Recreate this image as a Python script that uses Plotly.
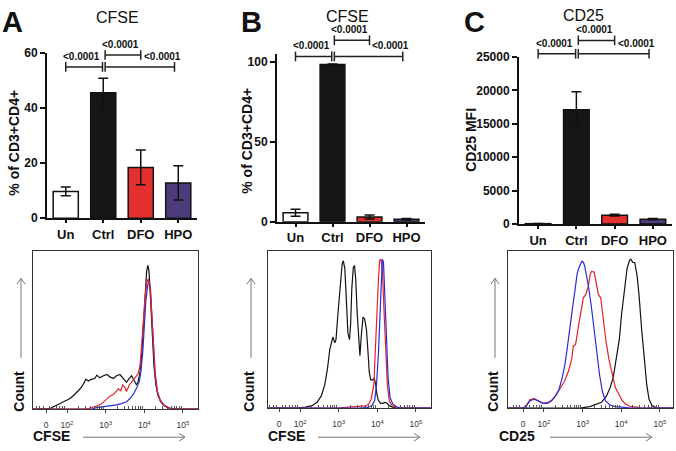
import math
import plotly.graph_objects as go

W, H = 676, 451
FONT = "Liberation Sans, Arial, sans-serif"

# ---------------- bar chart data ----------------
groups = ["Un", "Ctrl", "DFO", "HPO"]
bar_colors = ["#ffffff", "#161616", "#e4302e", "#4e3b7c"]

cfse_a_mean = [9.7, 45.4, 18.4, 12.8]
cfse_a_sem = [1.6, 5.3, 6.3, 6.2]
cfse_b_mean = [5.7, 98.4, 3.0, 1.6]
cfse_b_sem = [2.2, 0.3, 1.2, 0.5]
cd25_mfi_mean = [60, 17100, 1320, 730]
cd25_mfi_sem = [20, 2700, 130, 90]

p_label = "<0.0001"
# (from group index, to group index, bracket height in data units)
brackets_a = [(0.0, 0.98, 54.8), (1.05, 2.0, 59.1), (1.05, 2.9, 54.8)]
brackets_b = [(0.0, 0.98, 103.4), (1.05, 2.0, 113.5), (1.05, 2.9, 103.4)]
brackets_c = [(0.0, 0.98, 25500), (1.05, 2.0, 27500), (1.05, 2.9, 25500)]
bracket_label_x = [0.43, 1.47, 2.57]

# ---------------- histogram data (display units: log10 decades, % of max) ----------------
hist_tickvals = [1.46, 2, 3, 4, 5]
hist_ticktext = ["0", "10<sup>2</sup>", "10<sup>3</sup>", "10<sup>4</sup>", "10<sup>5</sup>"]
hist_minor_lin = [1.2, 1.3, 1.38, 1.55, 1.63, 1.72, 1.8, 1.88, 1.94]

# Panel A (CFSE)
a_ctrl_x = [1.05, 1.56, 1.69, 1.82, 1.95, 2.08, 2.21, 2.34, 2.42, 2.49, 2.55, 2.64, 2.72, 2.77, 2.85,
            2.94, 3.04, 3.11, 3.20, 3.28, 3.37, 3.46, 3.54, 3.61, 3.67, 3.73, 3.80, 3.84, 3.89, 3.93,
            3.97, 4.02, 4.06, 4.09, 4.12, 4.16, 4.21, 4.25, 4.30, 4.36, 4.45, 4.53, 4.66, 4.84, 5.45]
a_ctrl_y = [0, 0.4, 2.0, 3.5, 5.1, 6.7, 9.6, 12.9, 15.7, 19.0, 17.8, 19.0, 19.4, 21.5, 19.8,
            21.1, 21.9, 20.4, 19.4, 21.1, 21.9, 19.4, 17.0, 19.4, 21.1, 18.4, 15.3, 17.4, 23.5, 33.7,
            52.1, 72.6, 86.9, 91.0, 87.9, 70.6, 48.1, 27.6, 15.3, 8.2, 4.1, 2.0, 0.6, 0, 0]
a_dfo_x = [1.05, 2.51, 2.64, 2.77, 2.90, 2.98, 3.04, 3.11, 3.20, 3.27, 3.33, 3.39, 3.44, 3.50, 3.54,
           3.61, 3.67, 3.76, 3.84, 3.89, 3.93, 3.97, 4.02, 4.06, 4.10, 4.15, 4.19, 4.23, 4.28, 4.34,
           4.41, 4.49, 4.58, 4.71, 5.45]
a_dfo_y = [0, 0, 1.0, 2.0, 3.5, 5.1, 6.7, 8.2, 9.2, 11.2, 12.9, 11.7, 15.3, 13.7, 11.2,
           15.3, 17.4, 19.8, 22.5, 27.6, 39.9, 56.2, 70.6, 79.8, 82.4, 78.7, 62.4, 41.9, 23.5, 11.2,
           6.1, 3.1, 1.4, 0, 0]
a_hpo_x = [1.05, 2.64, 2.77, 2.90, 3.03, 3.16, 3.28, 3.41, 3.54, 3.63, 3.72, 3.80, 3.87, 3.91, 3.96,
           4.00, 4.04, 4.09, 4.12, 4.16, 4.20, 4.24, 4.28, 4.34, 4.41, 4.49, 4.59, 4.71, 5.45]
a_hpo_y = [0, 0, 1.0, 1.4, 1.8, 2.2, 2.7, 3.5, 4.7, 6.7, 9.6, 13.3, 17.4, 23.5, 35.8,
           52.1, 68.5, 78.7, 80.8, 75.7, 60.3, 39.9, 21.5, 10.2, 5.1, 2.7, 1.0, 0, 0]

# Panel B (CFSE)
b_ctrl_x = [1.05, 1.88, 2.14, 2.31, 2.44, 2.55, 2.64, 2.71, 2.77, 2.81, 2.85, 2.90, 2.93, 2.98, 3.04,
            3.09, 3.12, 3.16, 3.20, 3.24, 3.28, 3.31, 3.34, 3.38, 3.41, 3.44, 3.48, 3.53, 3.55, 3.59,
            3.63, 3.67, 3.72, 3.76, 3.79, 3.83, 3.88, 3.92, 3.96, 3.99, 4.03, 4.09, 4.14, 4.19, 4.25,
            4.31, 4.40, 4.55, 5.45]
b_ctrl_y = [0, 0, 0.6, 1.6, 3.7, 7.8, 15.0, 25.2, 37.5, 42.6, 45.3, 41.6, 43.6, 60.0, 80.5,
            91.8, 93.9, 88.7, 68.2, 47.7, 43.6, 53.9, 76.4, 89.8, 90.8, 82.6, 60.0, 37.5, 33.4, 47.7,
            58.0, 57.0, 49.8, 35.5, 23.2, 18.0, 18.0, 19.1, 15.0, 8.8, 4.7, 3.1, 3.1, 3.7, 3.1,
            1.6, 0.6, 0, 0]
b_dfo_x = [1.05, 3.00, 3.26, 3.52, 3.69, 3.78, 3.84, 3.91, 3.95, 3.99, 4.03, 4.06, 4.09, 4.13, 4.17,
           4.22, 4.26, 4.31, 4.38, 4.47, 4.59, 5.45]
b_dfo_y = [0, 0, 0.6, 1.0, 1.4, 2.7, 5.7, 15.0, 33.4, 60.0, 82.6, 93.9, 94.9, 88.7, 64.1,
           35.5, 15.0, 4.7, 1.6, 0.6, 0, 0]
b_hpo_x = [1.05, 3.60, 3.78, 3.86, 3.93, 3.98, 4.03, 4.07, 4.10, 4.13, 4.16, 4.19, 4.23, 4.28, 4.33,
           4.40, 4.48, 4.59, 5.45]
b_hpo_y = [0, 0, 0.6, 1.6, 4.7, 15.0, 35.5, 64.1, 86.7, 94.9, 92.8, 74.4, 43.6, 19.1, 6.8,
           2.7, 1.0, 0, 0]

# Panel C (CD25)
c_ctrl_x = [1.05, 2.72, 2.97, 3.19, 3.36, 3.49, 3.62, 3.71, 3.79, 3.88, 3.95, 4.01, 4.08, 4.15, 4.21,
            4.25, 4.30, 4.35, 4.41, 4.46, 4.53, 4.59, 4.66, 4.72, 4.80, 4.91, 5.04, 5.45]
c_ctrl_y = [0, 0, 0.2, 1.0, 2.3, 3.7, 7.8, 12.9, 19.1, 31.4, 43.6, 60.0, 76.4, 88.7, 93.9,
            94.9, 92.8, 92.8, 84.6, 72.3, 49.8, 31.4, 15.0, 5.7, 1.6, 0.2, 0, 0]
c_dfo_x = [1.05, 1.47, 1.55, 1.64, 1.75, 1.85, 1.98, 2.09, 2.20, 2.30, 2.41, 2.53, 2.63, 2.72, 2.76,
           2.82, 2.89, 2.96, 3.02, 3.08, 3.15, 3.19, 3.23, 3.30, 3.34, 3.41, 3.47, 3.53, 3.60, 3.68,
           3.77, 3.85, 3.94, 4.03, 4.11, 4.22, 4.40, 4.53, 5.45]
c_dfo_y = [0, 0, 2.0, 5.5, 6.1, 4.7, 3.1, 3.5, 5.1, 7.8, 11.9, 17.0, 23.2, 31.4, 39.5,
           40.6, 51.8, 63.1, 70.3, 72.3, 77.5, 84.6, 87.1, 86.7, 80.5, 72.3, 70.3, 55.9, 43.6, 31.4,
           21.1, 12.9, 8.8, 4.7, 2.7, 1.2, 0.6, 0, 0]
c_hpo_x = [1.05, 1.47, 1.55, 1.64, 1.75, 1.85, 1.98, 2.09, 2.20, 2.30, 2.39, 2.47, 2.54, 2.61, 2.67,
           2.73, 2.80, 2.86, 2.91, 2.96, 2.99, 3.03, 3.06, 3.10, 3.16, 3.23, 3.30, 3.37, 3.44, 3.51,
           3.59, 3.71, 3.84, 4.01, 4.27, 5.45]
c_hpo_y = [0, 0, 1.6, 4.7, 5.7, 4.7, 3.1, 3.1, 4.7, 7.8, 11.9, 19.1, 27.3, 39.5, 51.8,
           62.1, 74.4, 85.7, 89.8, 91.8, 93.9, 92.4, 89.8, 84.6, 76.4, 64.1, 49.8, 35.5, 21.1, 10.9,
           4.7, 2.0, 1.0, 0.6, 0, 0]

line_colors = {"Ctrl": "#111111", "DFO": "#e8202a", "HPO": "#2a2ad6"}

# ---------------- layout geometry (pixels) ----------------
def xdom(p0, p1):
    return [p0 / W, p1 / W]

def ydom(top, bottom):
    return [1 - bottom / H, 1 - top / H]

bar_panels = [
    dict(x=xdom(47, 197), y=ydom(47, 218), ymax=60, dtick=20, mean=cfse_a_mean, sem=cfse_a_sem, br=brackets_a),
    dict(x=xdom(277, 425), y=ydom(48.4, 221.7), ymax=105, dtick=50, mean=cfse_b_mean, sem=cfse_b_sem, br=brackets_b),
    dict(x=xdom(519, 672), y=ydom(51.7, 224), ymax=25000, dtick=5000, mean=cd25_mfi_mean, sem=cd25_mfi_sem, br=brackets_c),
]
hist_panels = [
    dict(x=xdom(33, 198), y=ydom(252, 415), xr=[1.12, 5.39],
         curves=[("Ctrl", a_ctrl_x, a_ctrl_y), ("HPO", a_hpo_x, a_hpo_y), ("DFO", a_dfo_x, a_dfo_y)]),
    dict(x=xdom(268, 431), y=ydom(252, 414), xr=[1.17, 5.39],
         curves=[("Ctrl", b_ctrl_x, b_ctrl_y), ("DFO", b_dfo_x, b_dfo_y), ("HPO", b_hpo_x, b_hpo_y)]),
    dict(x=xdom(508, 673), y=ydom(252, 414), xr=[1.07, 5.34],
         curves=[("Ctrl", c_ctrl_x, c_ctrl_y), ("DFO", c_dfo_x, c_dfo_y), ("HPO", c_hpo_x, c_hpo_y)]),
]

fig = go.Figure()
layout = dict(width=W, height=H, margin=dict(l=0, r=0, t=0, b=0), paper_bgcolor="white",
              plot_bgcolor="white", showlegend=False, font=dict(family=FONT, color="#111"))

def axname(kind, n):
    return kind + ("axis" if n == 1 else "axis%d" % n)

def ref(kind, n):
    return kind if n == 1 else "%s%d" % (kind, n)

def bold(size, color="#111"):
    return dict(family=FONT, size=size, color=color, weight="bold")

shapes = []

# ---- bar charts ----
for i, p in enumerate(bar_panels):
    n = i + 1
    fig.add_trace(go.Bar(
        x=groups, y=p["mean"], width=0.67,
        marker=dict(color=bar_colors, line=dict(color="#111", width=1.5)),
        error_y=dict(type="data", array=p["sem"], color="#111", thickness=1.5, width=5),
        xaxis=ref("x", n), yaxis=ref("y", n)))
    layout[axname("x", n)] = dict(domain=p["x"], anchor=ref("y", n), type="category",
                                  range=[-0.5, 3.5], showline=True, linecolor="#111", linewidth=2,
                                  ticks="outside", ticklen=3, tickwidth=1.5, tickcolor="#111",
                                  tickfont=bold(13), showgrid=False, zeroline=False,
                                  showticklabels=True)
    layout[axname("y", n)] = dict(domain=p["y"], anchor=ref("x", n), range=[0, p["ymax"]],
                                  dtick=p["dtick"], tickformat="d", showline=True, linecolor="#111",
                                  linewidth=2, ticks="outside", ticklen=5, tickwidth=1.5,
                                  tickcolor="#111", tickfont=bold(12), showgrid=False, zeroline=False)
    plot_h = (p["y"][1] - p["y"][0]) * H
    cap = 5.0 / plot_h
    lift = 11.0 / plot_h
    xr = ref("x", n) + " domain"
    yr = ref("y", n) + " domain"
    for (x0, x1, yv), lx in zip(p["br"], bracket_label_x):
        yd = yv / p["ymax"]
        x0d, x1d = (x0 + 0.5) / 4.0, (x1 + 0.5) / 4.0
        for seg in [(x0d, yd, x1d, yd), (x0d, yd - cap, x0d, yd + cap), (x1d, yd - cap, x1d, yd + cap)]:
            shapes.append(dict(type="line", xref=xr, yref=yr, x0=seg[0], y0=seg[1], x1=seg[2], y1=seg[3],
                               line=dict(color="#222", width=1.5)))
        fig.add_annotation(xref=xr, yref=yr, x=(lx + 0.5) / 4.0, y=yd + lift, text=p_label,
                           showarrow=False, font=bold(10), xanchor="center", yanchor="middle")

# ---- histograms ----
minor_log = [d + math.log10(k) for d in (2, 3, 4) for k in range(2, 10)]
for i, p in enumerate(hist_panels):
    n = i + 4
    for name, xs, ys in p["curves"]:
        fig.add_trace(go.Scatter(x=xs, y=ys, mode="lines", line=dict(color=line_colors[name], width=1.2),
                                 xaxis=ref("x", n), yaxis=ref("y", n), hoverinfo="skip"))
    layout[axname("x", n)] = dict(domain=p["x"], anchor=ref("y", n), range=p["xr"],
                                  tickvals=hist_tickvals, ticktext=hist_ticktext,
                                  ticks="outside", ticklen=3, tickcolor="#444",
                                  tickfont=dict(family=FONT, size=8.5, color="#333"),
                                  ticklabelstandoff=5,
                                  minor=dict(tickvals=hist_minor_lin + minor_log, ticks="inside",
                                             ticklen=3, tickcolor="#555"),
                                  showline=True, linecolor="#333", linewidth=1, mirror=True,
                                  showgrid=False, zeroline=False)
    layout[axname("y", n)] = dict(domain=p["y"], anchor=ref("x", n), range=[0, 100],
                                  showline=True, linecolor="#333", linewidth=1, mirror=True,
                                  showticklabels=False, ticks="", showgrid=False, zeroline=False)

# ---- texts ----
def text_px(x, y, text, font, angle=0):
    fig.add_annotation(xref="paper", yref="paper", x=x / W, y=1 - y / H, text=text, showarrow=False,
                       font=font, textangle=angle, xanchor="center", yanchor="middle")

def px(x, y):
    return x / W, 1 - y / H

for letter, x in [("A", 12.5), ("B", 251.5), ("C", 474.5)]:
    text_px(x, 15, letter, bold(29))
for title, x, y in [("CFSE", 117, 10.5), ("CFSE", 347, 10), ("CD25", 583, 9)]:
    text_px(x, y, title, dict(family=FONT, size=16, color="#111"))
for title, x, y in [("% of CD3+CD4+", 14, 140), ("% of CD3+CD4+", 247, 138), ("CD25 MFI", 471, 137)]:
    text_px(x, y, title, bold(14), angle=-90)

arrow_line = dict(color="#777", width=1)
for x_count, x_lab, lab, arr0, arr1 in [(19, 51.5, "CFSE", 83, 185), (249, 286, "CFSE", 318, 420),
                                        (493, 516.5, "CD25", 550, 652)]:
    text_px(x_count, 397, "Count", bold(14), angle=-90)
    text_px(x_lab, 443, lab, bold(14))
    # horizontal arrow (shaft + open head)
    ax0, ay0 = px(arr0, 444)
    ax1, ay1 = px(arr1, 444)
    shapes.append(dict(type="line", xref="paper", yref="paper", x0=ax0, y0=ay0, x1=ax1, y1=ay1, line=arrow_line))
    hx0, hy0 = px(arr1 - 6, 440)
    hx1, hy1 = px(arr1 - 6, 448)
    shapes.append(dict(type="path", xref="paper", yref="paper",
                       path="M %f,%f L %f,%f L %f,%f" % (hx0, hy0, ax1, ay1, hx1, hy1), line=arrow_line))
    # vertical arrow
    vx = x_count + 2
    vx0, vy0 = px(vx, 362)
    vx1, vy1 = px(vx, 280)
    shapes.append(dict(type="line", xref="paper", yref="paper", x0=vx0, y0=vy0, x1=vx1, y1=vy1, line=arrow_line))
    lx0, ly0 = px(vx - 4, 286)
    lx1, ly1 = px(vx + 4, 286)
    shapes.append(dict(type="path", xref="paper", yref="paper",
                       path="M %f,%f L %f,%f L %f,%f" % (lx0, ly0, vx1, vy1, lx1, ly1), line=arrow_line))

layout["shapes"] = shapes
fig.update_layout(**layout)

fig.write_html("out.html", config={"displayModeBar": False},
               post_script="document.body.style.margin='0';document.body.style.padding='0';")
